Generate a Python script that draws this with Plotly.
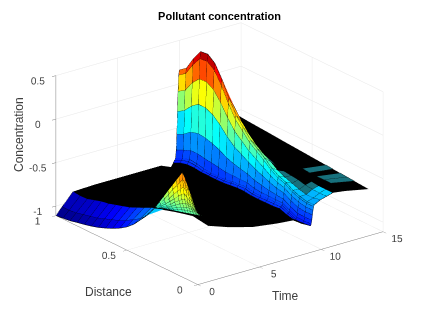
import plotly.graph_objects as go

TITLE = "Pollutant concentration"
X_LABEL = "Time"
Y_LABEL = "Distance"
Z_LABEL = "Concentration"
TIME_TICKS = [0, 5, 10, 15]
DIST_TICKS = [0, 0.5, 1]
CONC_TICKS = [-1, -0.5, 0, 0.5]
CONC_TICK_TEXT = ["-1", "-0.5", "0", "0.5"]

distance = [1, .95, .9, .85, .8, .75, .7, .65, .6, .55, .5, .45, .4, .35, .3, .25, .2, .15, .1, .05]
time = [0, .5, 1.4, 3, 5, 7, 8.5, 9.3, 9.5, 9.6, 9.7, 9.75, 9.8, 9.85, 9.9, 9.95, 10, 10.5, 11, 11.5, 12.5, 14.4]
conc = [
 [-1.11,-1.10,-1.09,-1.07,-1.053,-1.033,-1.008,-.976,-.94,-.897,-.843,-.772,-.678,-.573,-.46,-.35,-.10,.02,.10,-.10],
 [-1.03,-1.03,-1.02,-1.0,-.98,-.96,-.93,-.90,-.87,-.83,-.78,-.73,-.65,-.53,-.50,-.47,-.45,-.42,-.40,-.37],
 [-.89,-.90,-.896,-.87,-.845,-.83,-.805,-.78,-.755,-.717,-.68,-.64,-.606,-.57,-.544,-.52,-.49,-.48,-.487,-.53],
 [-.88,-.88,-.87,-.86,-.85,-.84,-.83,-.82,-.80,-.78,-.76,-.74,-.72,-.70,-.68,-.66,-.64,-.62,-.61,-.61],
 [-.88,-.88,-.87,-.86,-.85,-.85,-.84,-.83,-.82,-.81,-.79,-.78,-.77,-.75,-.74,-.73,-.71,-.70,-.69,-.69],
 [-.88,-.88,-.87,-.87,-.86,-.85,-.84,-.84,-.83,-.82,-.81,-.80,-.79,-.78,-.77,-.76,-.75,-.74,-.73,-.73],
 [-.88,-.88,-.87,-.87,-.86,-.86,-.85,-.85,-.84,-.84,-.83,-.83,-.82,-.81,-.80,-.79,-.78,-.77,-.76,-.75],
 [-.93,-.90,-.88,-.87,-.87,-.87,-.87,-.87,-.86,-.86,-.86,-.87,-.87,-.86,-.86,-.85,-.86,-.86,-.85,-.83],
 [-.89,-.85,-.83,-.83,-.84,-.84,-.84,-.84,-.83,-.82,-.82,-.83,-.83,-.83,-.83,-.82,-.85,-.87,-.87,-.85],
 [-.865,-.825,-.80,-.805,-.825,-.83,-.825,-.825,-.81,-.80,-.795,-.815,-.815,-.81,-.81,-.805,-.84,-.872,-.87,-.86],
 [-.84,-.804,-.778,-.787,-.807,-.815,-.812,-.81,-.795,-.787,-.778,-.798,-.80,-.792,-.79,-.787,-.83,-.872,-.87,-.866],
 [-.75,-.71,-.675,-.672,-.69,-.70,-.713,-.727,-.727,-.729,-.73,-.754,-.762,-.761,-.764,-.765,-.808,-.85,-.85,-.846],
 [-.57,-.53,-.468,-.442,-.454,-.478,-.514,-.561,-.592,-.613,-.634,-.666,-.685,-.70,-.713,-.72,-.765,-.804,-.808,-.805],
 [-.31,-.26,-.17,-.11,-.114,-.153,-.228,-.322,-.398,-.446,-.495,-.539,-.575,-.611,-.639,-.655,-.703,-.739,-.749,-.746],
 [-.08,-.03,.095,.18,.186,.135,.026,-.11,-.225,-.298,-.372,-.426,-.477,-.533,-.573,-.597,-.648,-.68,-.697,-.693],
 [.10,.16,.30,.41,.42,.36,.224,.056,-.09,-.183,-.276,-.338,-.40,-.47,-.522,-.552,-.604,-.636,-.656,-.653],
 [.159,.219,.37,.49,.50,.435,.29,.111,-.045,-.144,-.244,-.309,-.375,-.451,-.505,-.537,-.59,-.621,-.642,-.639],
 [.0,.05,.15,.25,.27,.2,.1,-.03,-.15,-.25,-.33,-.39,-.44,-.50,-.54,-.57,-.6,-.62,-.62,-.6],
 [-.2,-.15,-.1,-.08,-.1,-.16,-.24,-.32,-.40,-.44,-.47,-.49,-.51,-.53,-.54,-.55,-.57,-.58,-.585,-.58],
 [-.35,-.33,-.30,-.30,-.32,-.36,-.40,-.44,-.47,-.49,-.51,-.52,-.53,-.54,-.55,-.55,-.55,-.56,-.56,-.56],
 [-.45,-.45,-.45,-.46,-.47,-.48,-.49,-.50,-.51,-.52,-.53,-.54,-.55,-.56,-.57,-.57,-.57,-.57,-.57,-.58],
 [-.515,-.52,-.528,-.534,-.54,-.546,-.553,-.56,-.566,-.572,-.578,-.585,-.591,-.597,-.604,-.61,-.617,-.623,-.629,-.635],
]

spike_distance = [.3, .27, .24, .21, .18, .15, .13, .11, .09, .07, .05, .03, .01]
spike_time = [0, .05, .1, .15, .2, .27, .35, .42, .5]
spike_conc = [
 [-.457,-.37,-.283,-.195,-.108,-.021,.037,.095,.044,-.037,-.115,-.195,-.27],
 [-.46,-.39,-.32,-.24,-.16,-.09,-.04,.01,-.03,-.10,-.16,-.22,-.285],
 [-.465,-.41,-.35,-.29,-.22,-.16,-.12,-.08,-.11,-.16,-.20,-.25,-.30],
 [-.47,-.425,-.375,-.325,-.27,-.22,-.185,-.155,-.18,-.21,-.24,-.275,-.31],
 [-.475,-.44,-.40,-.36,-.31,-.27,-.24,-.22,-.24,-.26,-.28,-.30,-.32],
 [-.478,-.45,-.415,-.385,-.345,-.31,-.29,-.27,-.28,-.29,-.305,-.315,-.33],
 [-.48,-.46,-.43,-.41,-.38,-.35,-.34,-.32,-.32,-.32,-.33,-.33,-.34],
 [-.483,-.466,-.444,-.427,-.405,-.383,-.373,-.358,-.354,-.349,-.349,-.345,-.345],
 [-.486,-.472,-.457,-.444,-.43,-.416,-.407,-.397,-.388,-.378,-.368,-.359,-.35],
]

Z_MIN, Z_MAX = -1.11, 0.5
DIM_CELLS = [(17, 11), (17, 13), (17, 14), (17, 15), (17, 16), (18, 16), (20, 13), (20, 15), (20, 16)]
EXTRA_COLOUR_CELLS = [(17, 17), (17, 18), (18, 17), (18, 18)]
MATLAB_JET = [[0, "rgb(0,0,143)"], [0.125, "rgb(0,0,255)"], [0.375, "rgb(0,255,255)"],
              [0.625, "rgb(255,255,0)"], [0.875, "rgb(255,0,0)"], [1, "rgb(128,0,0)"]]


def faces(cells, ncol):
    i, j, k = [], [], []
    for r, c in cells:
        a = r * ncol + c
        b = a + 1
        d = a + ncol
        e = d + 1
        i += [a, a]
        j += [b, e]
        k += [e, d]
    return i, j, k


def flatten(ts, xs, zs):
    vx, vy, vz = [], [], []
    for r, t in enumerate(ts):
        for c, x in enumerate(xs):
            vx.append(t)
            vy.append(x)
            vz.append(zs[r][c])
    return vx, vy, vz


LIGHT = dict(ambient=1, diffuse=0, specular=0, fresnel=0, roughness=1)
nr, nc = len(time), len(distance)
vx, vy, vz = flatten(time, distance, conc)
colored, black, dim = [], [], []
for r in range(nr - 1):
    for c in range(nc - 1):
        if (r, c) in DIM_CELLS:
            dim.append((r, c))
        elif 8 <= r <= 16 or (r <= 1 and c <= 12) or (r, c) in EXTRA_COLOUR_CELLS:
            colored.append((r, c))
        elif r == 0:
            continue
        else:
            black.append((r, c))


def cell_colour(cells, zs):
    # flat shading: each cell takes the colour of its lower-time edge
    return [0.5 * (zs[r][c] + zs[r][c + 1]) for r, c in cells for _ in (0, 1)]


def edge_lines(cells, ts, xs, zs):
    lx, ly, lz = [], [], []
    for r, c in cells:
        for rr, cc in [(r, c), (r, c + 1), (r + 1, c + 1), (r + 1, c), (r, c)]:
            lx.append(ts[rr]); ly.append(xs[cc]); lz.append(zs[rr][cc])
        lx.append(None); ly.append(None); lz.append(None)
    return lx, ly, lz


fig = go.Figure()
i, j, k = faces(colored, nc)
fig.add_trace(go.Mesh3d(x=vx, y=vy, z=vz, i=i, j=j, k=k, intensity=cell_colour(colored, conc), intensitymode="cell",
                        colorscale=MATLAB_JET, cmin=Z_MIN, cmax=Z_MAX, showscale=False, flatshading=True, lighting=LIGHT,
                        hoverinfo="skip"))
i, j, k = faces(black, nc)
fig.add_trace(go.Mesh3d(x=vx, y=vy, z=vz, i=i, j=j, k=k, color="black", flatshading=True, lighting=LIGHT, hoverinfo="skip"))
i, j, k = faces(dim, nc)
fig.add_trace(go.Mesh3d(x=vx, y=vy, z=vz, i=i, j=j, k=k, color="#17707c", flatshading=True, lighting=LIGHT, hoverinfo="skip"))

lx, ly, lz = edge_lines(colored + dim, time, distance, conc)
fig.add_trace(go.Scatter3d(x=lx, y=ly, z=lz, mode="lines", line=dict(color="black", width=1), hoverinfo="skip", showlegend=False))

sr, sc = len(spike_time), len(spike_distance)
vx2, vy2, vz2 = flatten(spike_time, spike_distance, spike_conc)
cells2 = [(r, c) for r in range(sr - 1) for c in range(sc - 1)]
i, j, k = faces(cells2, sc)
fig.add_trace(go.Mesh3d(x=vx2, y=vy2, z=vz2, i=i, j=j, k=k, intensity=cell_colour(cells2, spike_conc), intensitymode="cell",
                        colorscale=MATLAB_JET, cmin=Z_MIN, cmax=Z_MAX, showscale=False, flatshading=True, lighting=LIGHT,
                        hoverinfo="skip"))
lx, ly, lz = edge_lines(cells2, spike_time, spike_distance, spike_conc)
fig.add_trace(go.Scatter3d(x=lx, y=ly, z=lz, mode="lines", line=dict(color="black", width=1), hoverinfo="skip", showlegend=False))

FONT = "Liberation Sans"
axis = dict(showbackground=False, showgrid=True, gridcolor="#e6e6e6", gridwidth=1, zeroline=False, showline=True,
            linecolor="#808080", linewidth=1, ticks="outside", ticklen=5, tickcolor="#808080", tickangle=0,
            tickfont=dict(family=FONT, size=11, color="#404040"), title=dict(text=""), showspikes=False)
label_font = dict(family=FONT, size=12, color="#404040")
fig.update_layout(
    width=423, height=317, autosize=False, showlegend=False,
    paper_bgcolor="white", margin=dict(l=0, r=0, t=0, b=0),
    title=dict(text="<b>" + TITLE + "</b>", x=0.5, xanchor="center", y=0.973, yanchor="middle",
               font=dict(family=FONT, size=11, color="black")),
    scene=dict(
        domain=dict(x=[0, 1], y=[0.0315, 1]),
        aspectmode="manual", aspectratio=dict(x=1.52, y=1.52, z=0.983),
        camera=dict(projection=dict(type="orthographic"), center=dict(x=0, y=0, z=-0.055),
                    eye=dict(x=-1.25, y=-1.63, z=0.77), up=dict(x=0, y=0, z=1)),
        xaxis=dict(axis, range=[0, 15], tickvals=TIME_TICKS),
        yaxis=dict(axis, range=[0, 1], tickvals=DIST_TICKS),
        zaxis=dict(axis, range=[Z_MIN, Z_MAX], tickvals=CONC_TICKS, ticktext=CONC_TICK_TEXT, ticklen=3),
    ),
    annotations=[
        dict(text=X_LABEL, x=277 / 423, y=1 - 288 / 317, xref="paper", yref="paper", showarrow=False,
             xanchor="center", yanchor="middle", font=label_font),
        dict(text=Y_LABEL, x=100 / 423, y=1 - 284 / 317, xref="paper", yref="paper", showarrow=False,
             xanchor="center", yanchor="middle", font=label_font),
        dict(text=Z_LABEL, x=11 / 423, y=1 - 127 / 317, xref="paper", yref="paper", showarrow=False, textangle=-90,
             xanchor="center", yanchor="middle", font=label_font),
    ],
)
fig.write_html("out.html", config=dict(displayModeBar=False))
